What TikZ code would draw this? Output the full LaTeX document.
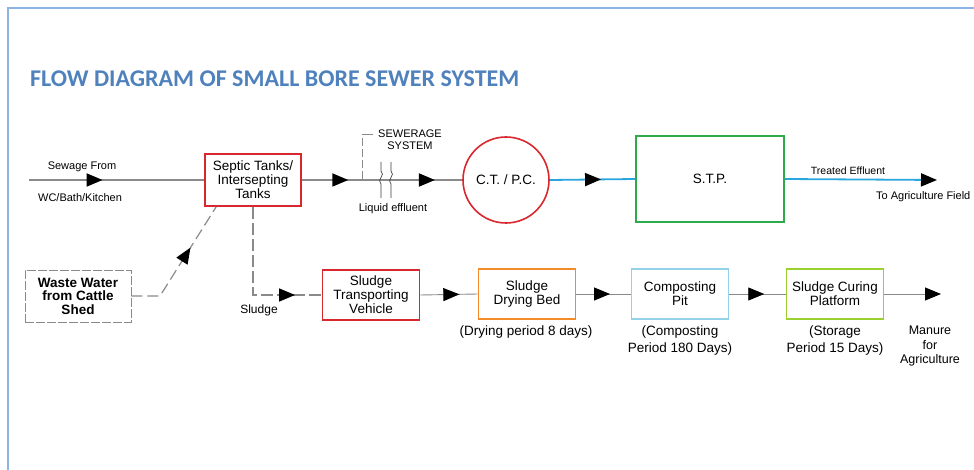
\documentclass[tikz,border=0pt]{standalone}
\usepackage{fontspec}
\setmainfont{Liberation Sans}
\newfontfamily\titlefont{Carlito}
\usetikzlibrary{arrows.meta,decorations.markings,calc}
\definecolor{frameblue}{HTML}{8DB3E2}
\definecolor{titleblue}{HTML}{4F81BD}
\definecolor{boxred}{HTML}{D9272E}
\definecolor{boxgreen}{HTML}{2EAA4A}
\definecolor{boxorange}{HTML}{F28C28}
\definecolor{boxcyan}{HTML}{92D3EA}
\definecolor{boxlime}{HTML}{9BD12F}
\definecolor{flowblue}{HTML}{2AA6DE}
\definecolor{linegray}{HTML}{8A8A8A}
\tikzset{
  arr/.style={postaction={decorate,decoration={markings,
     mark=at position #1 with {\arrow{Triangle[length=16pt,width=13pt,color=black]}}}}},
  procbox/.style={draw, line width=1.6pt, minimum width=97pt, minimum height=50pt,
     align=center, font=\fontsize{13.5}{14}\selectfont, inner sep=1pt},
  lbl/.style={align=center, inner sep=0pt},
  small/.style={lbl, font=\fontsize{11}{12}\selectfont},
  capt/.style={lbl, font=\fontsize{13.5}{16.5}\selectfont, anchor=north},
  mainline/.style={linegray, line width=1.8pt},
  thinline/.style={linegray, line width=0.9pt},
}
\begin{document}
\begin{tikzpicture}[x=1pt,y=-1pt]
\useasboundingbox (0,0) rectangle (974,470);
\fill[white] (0,0) rectangle (974,470);
\draw[frameblue, line width=1.2pt] (8,475) -- (8,8) -- (980,8);

\node[anchor=base west, inner sep=0pt, text=titleblue,
      font=\titlefont\bfseries\fontsize{24}{28}\selectfont] (title) at (30,87)
      {FLOW DIAGRAM OF SMALL BORE SEWER SYSTEM};

% top row
\coordinate (src) at (29,180);
\node[procbox, draw=boxred, minimum width=96pt, minimum height=52pt] (septic) at (253,180)
   {Septic Tanks/\\Intersepting\\Tanks};
\node[draw=boxred, line width=1.6pt, circle, minimum size=86pt, inner sep=0pt,
      font=\fontsize{13.5}{14}\selectfont] (ct) at (506,180) {C.T. / P.C.};
\node[procbox, draw=boxgreen, minimum width=148pt, minimum height=86pt] (stp) at (710,179) {S.T.P.};
\coordinate (field) at (937,180);

\draw[mainline, arr=0.42] (src) -- (septic.west);
\draw[mainline, arr=0.29, arr=0.83] (septic.east) -- (ct.west);
\draw[flowblue, line width=1.8pt, arr=0.6] (ct.east) -- (stp.west);
\draw[flowblue, line width=1.8pt, -{Triangle[length=16pt,width=13pt,color=black]}] (stp.east) -- (field);

\node[small] (sewfrom) at (82,167) {Sewage From};
\node[small] (wcbath) at (80,198) {WC/Bath/Kitchen};

% sewerage system bracket and break marks
\coordinate (brk) at (362,134);
\draw[linegray, line width=0.8pt, dash pattern=on 8pt off 3pt] (362,179) -- (brk);
\draw[linegray, line width=0.8pt] (brk) -- (373,134);
\node[small, font=\fontsize{11}{11.5}\selectfont] (sewsys) at (410,139.5) {SEWERAGE\\SYSTEM};
\foreach \xx in {381,391}{
  \draw[black!75, line width=0.7pt] (\xx,162) -- (\xx,171) .. controls (\xx+5,175) and (\xx-5,180) .. (\xx,184) -- (\xx,198);
}
\node[small] (liq) at (393,209) {Liquid effluent};

\node[small, font=\fontsize{10.5}{12}\selectfont] (treated) at (848,171) {Treated Effluent};
\node[small, anchor=west] (tofield) at (876,197) {To Agriculture Field};

% waste water
\node[draw=linegray, line width=0.9pt, dash pattern=on 9pt off 2pt, minimum width=106pt, minimum height=52pt,
      align=center, inner sep=1pt, font=\bfseries\fontsize{13.5}{13.5}\selectfont] (waste) at (78,296)
      {Waste Water\\from Cattle\\Shed};
\coordinate (bend) at (160,296);
\coordinate (septin) at ($(septic.south west)+(12,0)$);
\draw[linegray, line width=1.2pt, dash pattern=on 11pt off 5pt, arr=0.64] (waste.east) -- (bend) -- (septin);

% sludge path
\node[procbox, draw=boxred] (stv) at (371,295) {Sludge\\Transporting\\Vehicle};
\coordinate (scorner) at (253,295);
\draw[linegray, line width=1.5pt, dash pattern=on 12pt off 4pt, arr=0.83] (septic.south) -- (scorner) -- (stv.west);
\node[small, font=\fontsize{12}{13}\selectfont] (sludgelbl) at (259,310) {Sludge};

% bottom row
\node[procbox, draw=boxorange] (sdb) at (527,294) {Sludge\\Drying Bed};
\node[procbox, draw=boxcyan] (cp) at (680,294) {Composting\\Pit};
\node[procbox, draw=boxlime] (scp) at (835,294) {Sludge Curing\\Platform};
\coordinate (manend) at (941,294);

\draw[thinline, arr=0.68] (stv.east) -- (sdb.west);
\draw[thinline, arr=0.62] (sdb.east) -- (cp.west);
\draw[thinline, arr=0.62] (cp.east) -- (scp.west);
\draw[thinline, -{Triangle[length=16pt,width=13pt,color=black]}] (scp.east) -- (manend);

\node[capt] (c1) at (526,326) {(Drying period 8 days)};
\node[capt] (c2) at (680,326) {(Composting\\Period 180 Days)};
\node[capt] (c3) at (835,326) {(Storage\\Period 15 Days)};
\node[capt, font=\fontsize{12.5}{14.5}\selectfont] (c4) at (930,326) {Manure\\for\\Agriculture};
\end{tikzpicture}
\end{document}
